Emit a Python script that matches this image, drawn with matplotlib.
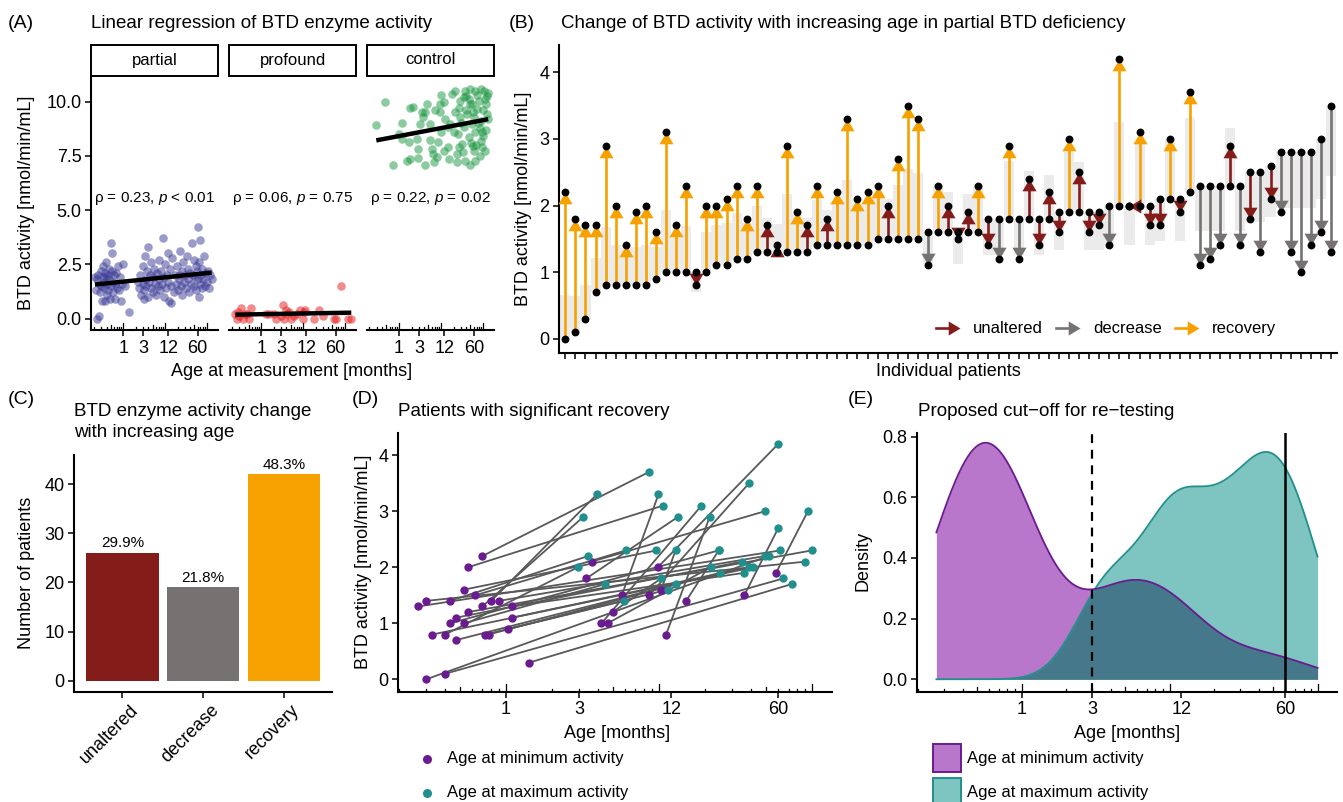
import numpy as np
import matplotlib.pyplot as plt
import matplotlib.transforms as mtransforms
from matplotlib.lines import Line2D
from matplotlib.patches import Rectangle

plt.rcParams['font.family'] = ['Liberation Sans', 'DejaVu Sans']
plt.rcParams['mathtext.fontset'] = 'custom'
plt.rcParams['mathtext.rm'] = 'Liberation Sans'
plt.rcParams['mathtext.it'] = 'Liberation Sans:italic'

# ---------------- data ----------------
# (A) age at measurement [months] and BTD activity
partial_age = [0.21, 0.22, 0.23, 0.24, 0.25, 0.26, 0.27, 0.28, 0.29, 0.30, 0.31, 0.32, 0.33, 0.34, 0.35,
               0.36, 0.37, 0.38, 0.39, 0.40, 0.41, 0.42, 0.44, 0.45, 0.46, 0.48, 0.50, 0.52, 0.53, 0.55,
               0.56, 0.58, 0.60, 0.62, 0.65, 0.68, 0.72, 0.75, 0.80, 0.85, 0.90, 0.95, 1.0, 1.1, 1.4,
               2.2, 2.4, 2.5, 2.7, 2.9, 3.0, 3.1, 3.2, 3.3, 3.4, 3.5, 3.6, 3.8, 4.0, 4.1,
               4.3, 4.5, 4.7, 5.0, 5.2, 5.5, 5.8, 6.0, 6.3, 6.6, 7.0, 7.3, 7.6, 8.0, 8.4,
               8.8, 9.2, 9.6, 10, 10.5, 11, 11.5, 12, 12.6, 13, 13.5, 14, 15, 16, 17,
               18, 19, 20, 21, 22, 23, 24, 25, 26, 27, 28, 30, 32, 33, 35,
               36, 38, 40, 42, 44, 46, 48, 50, 52, 54, 56, 58, 60, 62, 64,
               66, 68, 70, 72, 75, 78, 80, 85, 90, 95, 100, 105, 110, 120, 130]
partial_val = [1.9, 1.3, 0.0, 1.8, 2.0, 0.1, 1.6, 1.2, 2.2, 1.5, 0.8, 1.9, 2.4, 1.7, 1.4,
               2.1, 0.8, 1.9, 2.6, 1.6, 1.1, 2.0, 1.3, 2.3, 1.8, 0.9, 1.5, 3.5, 2.2, 3.0,
               1.7, 1.2, 2.0, 0.9, 1.6, 2.1, 1.4, 2.4, 1.3, 1.9, 0.8, 1.6, 2.5, 1.5, 0.3,
               1.7, 1.4, 2.0, 1.1, 1.6, 2.4, 1.3, 0.9, 2.9, 1.8, 1.5, 2.2, 1.0, 3.3, 1.7,
               2.0, 1.4, 2.6, 1.2, 1.9, 2.3, 1.6, 1.1, 2.1, 1.5, 2.7, 1.8, 1.3, 2.2, 1.6,
               3.7, 1.9, 1.0, 2.5, 1.4, 2.0, 3.0, 1.7, 0.8, 2.3, 1.5, 0.7, 2.8, 1.2, 2.0,
               1.6, 2.4, 1.3, 2.0, 1.8, 3.1, 1.5, 2.2, 1.1, 2.6, 1.7, 2.0, 1.4, 2.9, 1.8,
               2.3, 1.2, 2.1, 1.6, 3.5, 2.0, 1.5, 2.7, 1.9, 2.4, 1.3, 2.2, 4.2, 1.8, 1.0,
               2.6, 1.6, 3.6, 2.0, 1.4, 2.3, 1.8, 2.9, 1.5, 2.1, 1.7, 2.2, 1.4, 2.0, 1.8]
profound_age = [0.24, 0.26, 0.28, 0.30, 0.33, 0.36, 0.40, 0.45, 0.50, 0.58, 1.3, 1.5, 2.0, 2.3, 3.0,
                3.3, 3.5, 3.8, 4.2, 4.6, 5.0, 6.0, 7.0, 8.5, 9.9, 10.5, 11, 18, 24, 30,
                55, 60, 82, 120, 142]
profound_val = [0.2, 0.0, 0.3, 0.1, 0.5, 0.0, 0.2, 0.2, 0.0, 0.5, 0.2, 0.2, 0.2, 0.0, 0.1,
                0.6, 0.0, 0.4, 0.2, 0.3, 0.0, 0.1, 0.2, 0.4, 0.0, 0.3, 0.4, 0.0, 0.4, 0.1,
                0.0, 0.0, 1.5, 0.0, 0.0]
control_age = [0.29, 0.46, 0.73, 1.16, 1.02, 1.16, 1.52, 1.77, 1.83, 2.2, 2.75, 2.9, 2.9, 3.5, 3.8,
               4.2, 4.2, 4.6, 5.5, 6.0, 6.6, 6.9, 8.0, 9.6, 9.6, 10.1, 11.5, 12.6, 14.3, 15.1,
               16.6, 18.2, 21.1, 21.9, 24, 24, 26.3, 28.8, 28.8, 31.6, 32.8, 34.7, 37.9, 40, 41.6,
               45.6, 50, 50, 54.8, 58, 60, 65.8, 65.8, 72, 79, 86.7, 90, 95, 104, 108,
               114, 121, 125, 65.8, 36.6, 24.9, 14.3, 8.7, 3.2, 5.5, 1.83, 45, 55, 62, 70,
               75, 82, 88, 92, 98, 100, 110, 118, 128, 132, 40, 48, 52, 58, 68,
               85, 30, 35, 20, 26, 12, 7, 10]
control_val = [8.93, 10.0, 7.09, 9.0, 8.5, 8.27, 7.25, 8.12, 9.7, 9.73, 8.27, 7.81, 7.4, 9.54, 9.27,
               9.5, 7.08, 9.88, 8.22, 7.81, 7.58, 7.2, 7.43, 9.88, 9.5, 10.31, 7.73, 9.19, 7.92, 7.35,
               8.96, 10.34, 10.49, 9.5, 7.58, 7.2, 9.7, 10.03, 9.27, 8.04, 7.66, 8.81, 10.49, 10.26, 9.42,
               8.35, 7.09, 9.88, 8.96, 7.96, 7.73, 10.49, 8.58, 9.65, 10.03, 8.2, 9.11, 8.58, 10.49, 7.73,
               9.88, 9.42, 10.26, 7.28, 7.28, 8.5, 8.81, 8.12, 8.96, 8.96, 7.35, 10.1, 9.9, 9.3, 10.3,
               9.0, 8.8, 10.6, 7.9, 9.6, 8.4, 10.1, 8.7, 9.2, 10.4, 9.6, 10.6, 8.1, 9.5, 8.0,
               7.5, 9.0, 10.2, 8.6, 7.9, 10.0, 9.6, 8.6]

# (B) first (tail) and second (head) BTD activity per patient, class and tolerance band
b_tail = [0.0, 0.1, 0.3, 0.7, 0.8, 0.8, 0.8, 0.8, 0.8, 0.9, 1.0, 1.0, 1.0, 1.0, 1.0, 1.1, 1.1, 1.2, 1.2, 1.3,
          1.3, 1.3, 1.3, 1.3, 1.3, 1.4, 1.4, 1.4, 1.4, 1.4, 1.4, 1.5, 1.5, 1.5, 1.5, 1.5, 1.6, 1.6, 1.6, 1.6,
          1.6, 1.6, 1.8, 1.8, 1.8, 1.8, 1.8, 1.8, 1.8, 1.9, 1.9, 1.9, 1.9, 1.9, 2.0, 2.0, 2.0, 2.0, 2.0, 2.1,
          2.1, 2.1, 2.2, 2.3, 2.3, 2.3, 2.3, 2.3, 2.5, 2.5, 2.6, 2.8, 2.8, 2.8, 2.8, 3.0, 3.5]
b_head = [2.2, 1.8, 1.7, 1.7, 2.9, 2.0, 1.4, 1.9, 2.0, 1.6, 3.1, 1.7, 2.3, 0.8, 2.0, 2.0, 2.1, 2.3, 1.8, 2.3,
          1.7, 1.4, 2.9, 1.9, 1.7, 2.3, 1.8, 2.2, 3.3, 2.1, 2.2, 2.3, 2.0, 2.7, 3.5, 3.3, 1.1, 2.3, 2.0, 1.5,
          1.9, 2.3, 1.4, 1.2, 2.9, 1.2, 2.4, 1.4, 2.2, 1.6, 3.0, 2.5, 1.6, 1.7, 1.4, 4.2, 2.0, 3.1, 1.7, 1.7,
          3.0, 1.9, 3.7, 1.1, 1.2, 1.4, 2.9, 1.4, 1.8, 1.3, 2.1, 1.9, 1.3, 1.0, 1.4, 1.6, 1.3]
b_class = ['R', 'R', 'R', 'R', 'R', 'R', 'R', 'R', 'R', 'R', 'R', 'R', 'R', 'U', 'R', 'R', 'R', 'R', 'R', 'R',
           'U', 'U', 'R', 'R', 'U', 'R', 'U', 'R', 'R', 'R', 'R', 'R', 'U', 'R', 'R', 'R', 'D', 'R', 'U', 'U',
           'U', 'R', 'U', 'D', 'R', 'D', 'U', 'U', 'U', 'U', 'R', 'U', 'U', 'U', 'D', 'R', 'U', 'R', 'U', 'U',
           'R', 'U', 'R', 'D', 'D', 'D', 'U', 'D', 'U', 'D', 'U', 'D', 'D', 'D', 'D', 'D', 'D']
b_band = [0.66, 0.64, 0.81, 1.21, 1.67, 1.40, 1.36, 1.37, 1.40, 1.38, 1.93, 1.51, 1.69, 0.70, 1.60, 1.70, 1.73,
          1.89, 1.74, 1.99, 1.81, 1.72, 2.17, 1.87, 1.81, 2.09, 1.94, 2.06, 2.39, 2.03, 2.06, 2.19, 2.10, 2.31,
          2.55, 2.49, 1.12, 2.29, 2.20, 1.12, 2.17, 2.29, 1.26, 1.26, 2.67, 1.26, 2.52, 1.26, 2.46, 1.33, 2.80,
          2.65, 1.33, 1.33, 1.40, 3.26, 1.40, 2.93, 1.40, 1.47, 3.00, 1.47, 3.31, 1.61, 1.61, 1.61, 3.17, 1.61,
          1.75, 1.75, 1.82, 1.96, 1.96, 1.96, 1.96, 2.10, 2.45]

# (C) number of patients per class
c_cats = ['unaltered', 'decrease', 'recovery']
c_counts = [26, 19, 42]

# (D) age [months] and activity at minimum and maximum for recovering patients
min_age = [0.30, 0.40, 1.42, 0.47, 11.1, 0.73, 0.77, 0.33, 0.40, 1.03, 4.2, 4.6, 0.43, 0.53, 0.47, 1.09, 4.97,
           0.565, 0.266, 0.70, 1.09, 0.30, 0.43, 0.80, 0.90, 15.0, 0.63, 5.7, 8.6, 36.0, 0.53, 10.3, 3.34,
           58.0, 0.565, 9.8, 3.62, 0.70]
min_val = [0.0, 0.1, 0.3, 0.7, 0.8, 0.8, 0.8, 0.8, 0.8, 0.9, 1.0, 1.0, 1.0, 1.0, 1.1, 1.1, 1.2,
           1.2, 1.3, 1.3, 1.3, 1.4, 1.4, 1.4, 1.4, 1.4, 1.5, 1.5, 1.5, 1.5, 1.6, 1.6, 1.8,
           1.9, 2.0, 2.0, 2.1, 2.2]
max_age = [52.0, 64.7, 73.5, 12.8, 21.4, 5.9, 24.9, 41.3, 2.94, 11.4, 18.9, 21.7, 24.5, 4.45, 34.8, 38.7, 10.3,
           99.5, 62.0, 3.2, 36.0, 90.0, 3.44, 3.92, 49.2, 24.5, 6.06, 9.9, 38.7, 60.0, 9.6, 12.8, 13.3,
           93.7, 10.6, 60.0, 49.2, 8.6]
max_val = [2.2, 1.8, 1.7, 1.7, 2.9, 1.4, 1.9, 2.0, 2.0, 1.6, 3.1, 2.0, 2.3, 1.7, 2.1, 2.0, 1.8,
           2.3, 2.3, 2.9, 1.9, 2.1, 2.2, 3.3, 2.2, 2.3, 2.3, 3.3, 3.5, 2.7, 2.3, 2.3, 2.9,
           3.0, 3.1, 4.2, 3.0, 3.7]

# ---------------- figure ----------------
W, H = 1343, 802
fig = plt.figure(figsize=(W / 100, H / 100), dpi=100)

PURPLE, TEAL = '#6a1b8f', '#21908c'
COLS = {'U': '#841c1a', 'D': '#767272', 'R': '#f6a100'}


def add_ax(x0, y0, x1, y1):
    return fig.add_axes([x0 / W, 1 - y1 / H, (x1 - x0) / W, (y1 - y0) / H])


def ftext(x, y, s, **kw):
    kw.setdefault('va', 'center')
    return fig.text(x / W, 1 - y / H, s, **kw)


def style(ax, left=True):
    ax.spines['top'].set_visible(False)
    ax.spines['right'].set_visible(False)
    ax.spines['left'].set_visible(left)
    for s in ('left', 'bottom'):
        ax.spines[s].set_linewidth(1.5)
    ax.tick_params(length=4.5, width=1.1, labelsize=13, pad=2.5)
    ax.patch.set_alpha(0)


def logticks(ax):
    lo, hi = ax.get_xlim()
    tr = ax.get_xaxis_transform()
    for dec in (0.1, 1, 10, 100):
        for k in range(1, 10):
            v = k * dec
            if lo <= v <= hi:
                L = 0.028 if k == 1 else (0.018 if k == 5 else 0.011)
                ax.plot([v, v], [0, L], transform=tr, color='black', lw=0.9)
    ax.set_xlim(lo, hi)


# ---------- (A) ----------
ftext(8, 23, '(A)', fontsize=14)
ftext(91, 23, 'Linear regression of BTD enzyme activity', fontsize=13.5)
facets = [('partial', partial_age, partial_val, '#383895', 91.3, 218.0, 'ρ = 0.23, $p$ < 0.01'),
          ('profound', profound_age, profound_val, '#e41a1c', 229.3, 356.0, 'ρ = 0.06, $p$ = 0.75'),
          ('control', control_age, control_val, '#1a9641', 366.7, 494.3, 'ρ = 0.22, $p$ = 0.02')]
for i, (name, age, val, col, x0, x1, note) in enumerate(facets):
    ax = add_ax(x0, 77, x1, 330)
    style(ax, left=(i == 0))
    ax.set_xscale('log')
    age = np.asarray(age)
    val = np.asarray(val)
    ax.scatter(age, val, s=38, color=col, alpha=0.5, lw=0, zorder=2)
    k, b = np.polyfit(np.log10(age), val, 1)
    xs = np.array([age.min(), age.max()])
    ax.plot(xs, k * np.log10(xs) + b, color='black', lw=3.2, zorder=3, solid_capstyle='butt')
    ax.text(0.5, 5.55, note, transform=ax.get_yaxis_transform(), ha='center', va='center', fontsize=11)
    ax.set_xlim(10 ** -0.765, 10 ** 2.265)
    ax.set_ylim(-0.53, 11.13)
    ax.set_xticks([1, 3, 12, 60])
    ax.set_xticklabels(['1', '3', '12', '60'])
    ax.xaxis.set_minor_locator(plt.NullLocator())
    if i == 0:
        ax.set_yticks([0, 2.5, 5, 7.5, 10])
        ax.set_yticklabels(['0.0', '2.5', '5.0', '7.5', '10.0'])
    else:
        ax.set_yticks([])
    logticks(ax)
    fig.add_artist(Rectangle((x0 / W, 1 - 76 / H), (x1 - x0) / W, 31 / H, transform=fig.transFigure,
                             facecolor='white', edgecolor='black', lw=1.4))
    ftext((x0 + x1) / 2, 60, name, ha='center', fontsize=12)
ftext(27, 203, 'BTD activity [nmol/min/mL]', rotation=90, ha='center', fontsize=13)
ftext(292, 372, 'Age at measurement [months]', ha='center', fontsize=13)

# ---------- (B) ----------
ftext(509, 23, '(B)', fontsize=14)
ftext(561, 23, 'Change of BTD activity with increasing age in partial BTD deficiency', fontsize=13.5)
ax = add_ax(559.3, 45, 1337, 352.7)
style(ax)
UP = [(0, 0), (-0.6, -1), (0.6, -1)]
DOWN = [(0, 0), (-0.6, 1), (0.6, 1)]
LEFT = [(0, 0), (1, 0.6), (1, -0.6)]
xb = np.arange(1, len(b_tail) + 1)
ax.bar(xb, np.array(b_band) - np.array(b_tail), bottom=b_tail, width=1.0, color='#ebebeb', lw=0, zorder=1)
for xi, t, h, c in zip(xb, b_tail, b_head, b_class):
    col = COLS[c]
    if h != t:
        ax.plot([xi, xi], [t, h], color=col, lw=1.9, zorder=2, solid_capstyle='butt')
    mk = UP if h > t else (DOWN if h < t else LEFT)
    ax.plot([xi], [h], marker=mk, ms=17, color=col, mew=0, zorder=3)
ax.scatter(xb, b_tail, s=32, color='black', zorder=4, lw=0)
ax.scatter(xb, b_head, s=32, color='black', zorder=4, lw=0)
ax.set_xlim(0.4, len(b_tail) + 0.6)
ax.set_ylim(-0.21, 4.41)
ax.set_xticks(xb)
ax.set_xticklabels([])
ax.set_yticks([0, 1, 2, 3, 4])
ftext(524, 199, 'BTD activity [nmol/min/mL]', rotation=90, ha='center', fontsize=13)
ftext(948, 372, 'Individual patients', ha='center', fontsize=13)
for (x0, x1, tx), lab, key in zip([(936, 960, 973), (1056, 1080, 1093), (1175, 1199, 1212)],
                                  ['unaltered', 'decrease', 'recovery'], ['U', 'D', 'R']):
    fig.add_artist(Line2D([x0 / W, (x1 - 6) / W], [1 - 328 / H] * 2, color=COLS[key], lw=1.9,
                          transform=fig.transFigure))
    fig.add_artist(Line2D([x1 / W], [1 - 328 / H], marker=[(0, 0), (-1, 0.6), (-1, -0.6)], ms=17,
                          color=COLS[key], mew=0, transform=fig.transFigure))
    ftext(tx, 328, lab, fontsize=12)

# ---------- (C) ----------
ftext(8, 400, '(C)', fontsize=14)
ftext(74, 411, 'BTD enzyme activity change', fontsize=13.5)
ftext(74, 433, 'with increasing age', fontsize=13.5)
ax = add_ax(74, 455, 332.3, 691.7)
style(ax)
pos = np.arange(1, len(c_cats) + 1)
ax.bar(pos, c_counts, width=0.9, color=[COLS['U'], COLS['D'], COLS['R']], zorder=2)
tot = sum(c_counts)
for p, c in zip(pos, c_counts):
    ax.text(p, c + 0.5, f'{100 * c / tot:.1f}%', ha='center', va='bottom', fontsize=11)
ax.set_xlim(0.4, 3.6)
ax.set_ylim(-2.2, 45.9)
ax.set_xticks(pos)
ax.set_xticklabels(c_cats, rotation=45, ha='right', rotation_mode='anchor')
shift = mtransforms.ScaledTranslation(7 / 100, 0, fig.dpi_scale_trans)
for lbl in ax.get_xticklabels():
    lbl.set_transform(lbl.get_transform() + shift)
ax.set_yticks([0, 10, 20, 30, 40])
ftext(27, 573, 'Number of patients', rotation=90, ha='center', fontsize=13)

# ---------- (D) ----------
ftext(352, 399, '(D)', fontsize=14)
ftext(398, 411, 'Patients with significant recovery', fontsize=13.5)
ax = add_ax(398.3, 432.7, 831.7, 691.7)
style(ax)
ax.set_xscale('log')
for a0, v0, a1, v1 in zip(min_age, min_val, max_age, max_val):
    ax.plot([a0, a1], [v0, v1], color='#595959', lw=1.3, zorder=1)
ax.scatter(min_age, min_val, s=36, color=PURPLE, lw=0, zorder=3)
ax.scatter(max_age, max_val, s=36, color=TEAL, lw=0, zorder=3)
XL = (10 ** -0.704, 10 ** 2.127)
ax.set_xlim(*XL)
ax.set_ylim(-0.22, 4.40)
ax.set_xticks([1, 3, 12, 60])
ax.set_xticklabels(['1', '3', '12', '60'])
ax.xaxis.set_minor_locator(plt.NullLocator())
ax.set_yticks([0, 1, 2, 3, 4])
logticks(ax)
ftext(363, 562, 'BTD activity [nmol/min/mL]', rotation=90, ha='center', fontsize=13)
ftext(617, 733, 'Age [months]', ha='center', fontsize=13)
for y, col, lab in [(759, PURPLE, 'Age at minimum activity'), (793, TEAL, 'Age at maximum activity')]:
    fig.add_artist(Line2D([427 / W], [1 - y / H], marker='o', ms=6.5, color=col, mew=0,
                          transform=fig.transFigure))
    ftext(447, y, lab, fontsize=12)

# ---------- (E) ----------
ftext(848, 399, '(E)', fontsize=14)
ftext(918, 411, 'Proposed cut\u2212off for re\u2212testing', fontsize=13.5)
ax = add_ax(917.3, 432.7, 1336.7, 691.7)
style(ax)
ax.set_xscale('log')


def kde(vals, grid):
    v = np.log10(vals)
    n = len(v)
    q75, q25 = np.percentile(v, [75, 25])
    bw = 0.9 * min(v.std(ddof=1), (q75 - q25) / 1.34) * n ** -0.2
    z = (grid[:, None] - v[None, :]) / bw
    return np.exp(-0.5 * z ** 2).sum(1) / (n * bw * np.sqrt(2 * np.pi))


allv = np.log10(np.concatenate([min_age, max_age]))
g = np.linspace(allv.min(), allv.max(), 512)
d_min = kde(np.array(min_age), g)
d_max = kde(np.array(max_age), g)
xg = 10 ** g
ax.fill_between(xg, 0, d_min, color='#b977cb', lw=0, zorder=1)
ax.fill_between(xg, 0, d_max, color='#7ec4c0', lw=0, zorder=1)
ax.fill_between(xg, 0, np.minimum(d_min, d_max), color='#45788a', lw=0, zorder=2)
ax.plot(xg, d_max, color=TEAL, lw=1.3, zorder=3)
ax.plot(xg, d_min, color=PURPLE, lw=1.3, zorder=3)
ax.axvline(3, color='black', lw=1.6, ls=(0, (4, 3)), zorder=4)
ax.axvline(60, color='black', lw=1.8, zorder=4)
ax.set_xlim(*XL)
ax.set_ylim(-0.041, 0.813)
ax.set_xticks([1, 3, 12, 60])
ax.set_xticklabels(['1', '3', '12', '60'])
ax.xaxis.set_minor_locator(plt.NullLocator())
ax.set_yticks([0, 0.2, 0.4, 0.6, 0.8])
ax.set_yticklabels(['0.0', '0.2', '0.4', '0.6', '0.8'])
logticks(ax)
ftext(863, 561, 'Density', rotation=90, ha='center', fontsize=13)
ftext(1127, 733, 'Age [months]', ha='center', fontsize=13)
for y, fc, ec, lab in [(744, '#b977cb', PURPLE, 'Age at minimum activity'),
                       (778, '#7ec4c0', TEAL, 'Age at maximum activity')]:
    fig.add_artist(Rectangle((933 / W, 1 - (y + 28) / H), 28 / W, 28 / H, transform=fig.transFigure,
                             facecolor=fc, edgecolor=ec, lw=1.4))
    ftext(967, y + 14, lab, fontsize=12)

fig.savefig('out.png', dpi=100)
